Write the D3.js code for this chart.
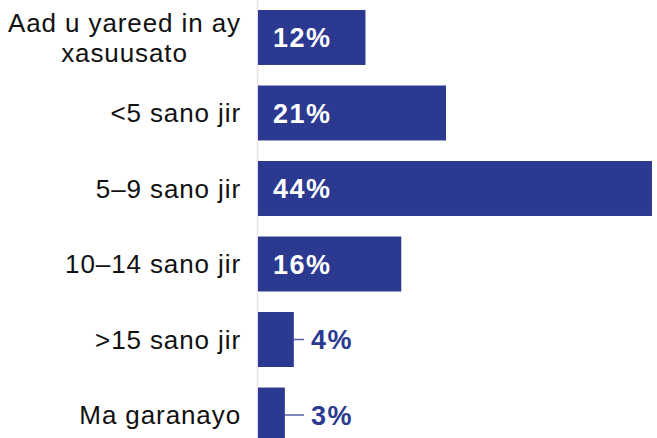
<!DOCTYPE html>
<html>
<head>
<meta charset="utf-8">
<script src="https://cdn.jsdelivr.net/npm/d3@7"></script>
<style>
  html, body { margin: 0; padding: 0; background: #fff; }
  svg { display: block; }
</style>
</head>
<body>
<svg id="chart"></svg>
<script>
// categories and values
const categories = [
  ["Aad u yareed in ay", "xasuusato"],
  ["<5 sano jir"],
  ["5\u20139 sano jir"],
  ["10\u201314 sano jir"],
  [">15 sano jir"],
  ["Ma garanayo"]
];
const values = [12, 21, 44, 16, 4, 3];
const valueLabels = values.map(v => v + "%");

const width = 657, height = 438;
const barColor = "#2b3990";
const fontFam = "'Liberation Sans', Arial, sans-serif";

const svg = d3.select("#chart").attr("width", width).attr("height", height);

const keys = categories.map((d, i) => i);
const x = d3.scaleLinear().domain([0, 44]).range([258, 652]);
const y = d3.scaleBand().domain(keys).range([10, 442.5]).paddingInner(0.272).paddingOuter(0);

// axis line
svg.append("line")
  .attr("x1", 257.5).attr("x2", 257.5)
  .attr("y1", 0).attr("y2", height)
  .attr("stroke", "#ebe0ec").attr("stroke-width", 1.5);

// bars
svg.append("g").selectAll("rect")
  .data(values)
  .join("rect")
  .attr("x", x(0))
  .attr("y", (d, i) => y(i))
  .attr("width", d => x(d) - x(0))
  .attr("height", y.bandwidth())
  .attr("fill", barColor);

// category labels
const labelRight = 241, lineH = 30;
const gLab = svg.append("g")
  .attr("font-family", fontFam)
  .attr("font-size", 26)
  .attr("letter-spacing", 0.9)
  .attr("fill", "#111");

categories.forEach((lines, i) => {
  const cy = y(i) + y.bandwidth() / 2;
  const t = gLab.append("text").attr("text-anchor", "end");
  const n = lines.length;
  lines.forEach((ln, j) => {
    t.append("tspan")
      .attr("x", labelRight)
      .attr("y", cy + (j - (n - 1) / 2) * lineH + (n > 1 ? 0.5 : 0))
      .attr("dy", "0.35em")
      .text(ln);
  });
  if (n > 1) {
    // centre multi-line blocks on their widest line
    const w = d3.max(t.selectAll("tspan").nodes(), nd => nd.getComputedTextLength());
    t.attr("text-anchor", "middle");
    t.selectAll("tspan").attr("x", labelRight - w / 2);
  }
});

// value labels
const gVal = svg.append("g")
  .attr("font-family", fontFam)
  .attr("font-weight", "bold")
  .attr("font-size", 27)
  .attr("letter-spacing", 1.5);

values.forEach((v, i) => {
  const cy = y(i) + y.bandwidth() / 2;
  const inside = (x(v) - x(0)) > 70;
  if (inside) {
    gVal.append("text")
      .attr("x", x(0) + 15).attr("y", cy).attr("dy", "0.36em")
      .attr("fill", "#fff")
      .text(valueLabels[i]);
  } else {
    gVal.append("line")
      .attr("x1", x(v)).attr("x2", 304)
      .attr("y1", cy).attr("y2", cy)
      .attr("stroke", "#5a63a6").attr("stroke-width", 1.5);
    gVal.append("text")
      .attr("x", 311).attr("y", cy).attr("dy", "0.36em")
      .attr("fill", barColor)
      .text(valueLabels[i]);
  }
});
</script>
</body>
</html>
